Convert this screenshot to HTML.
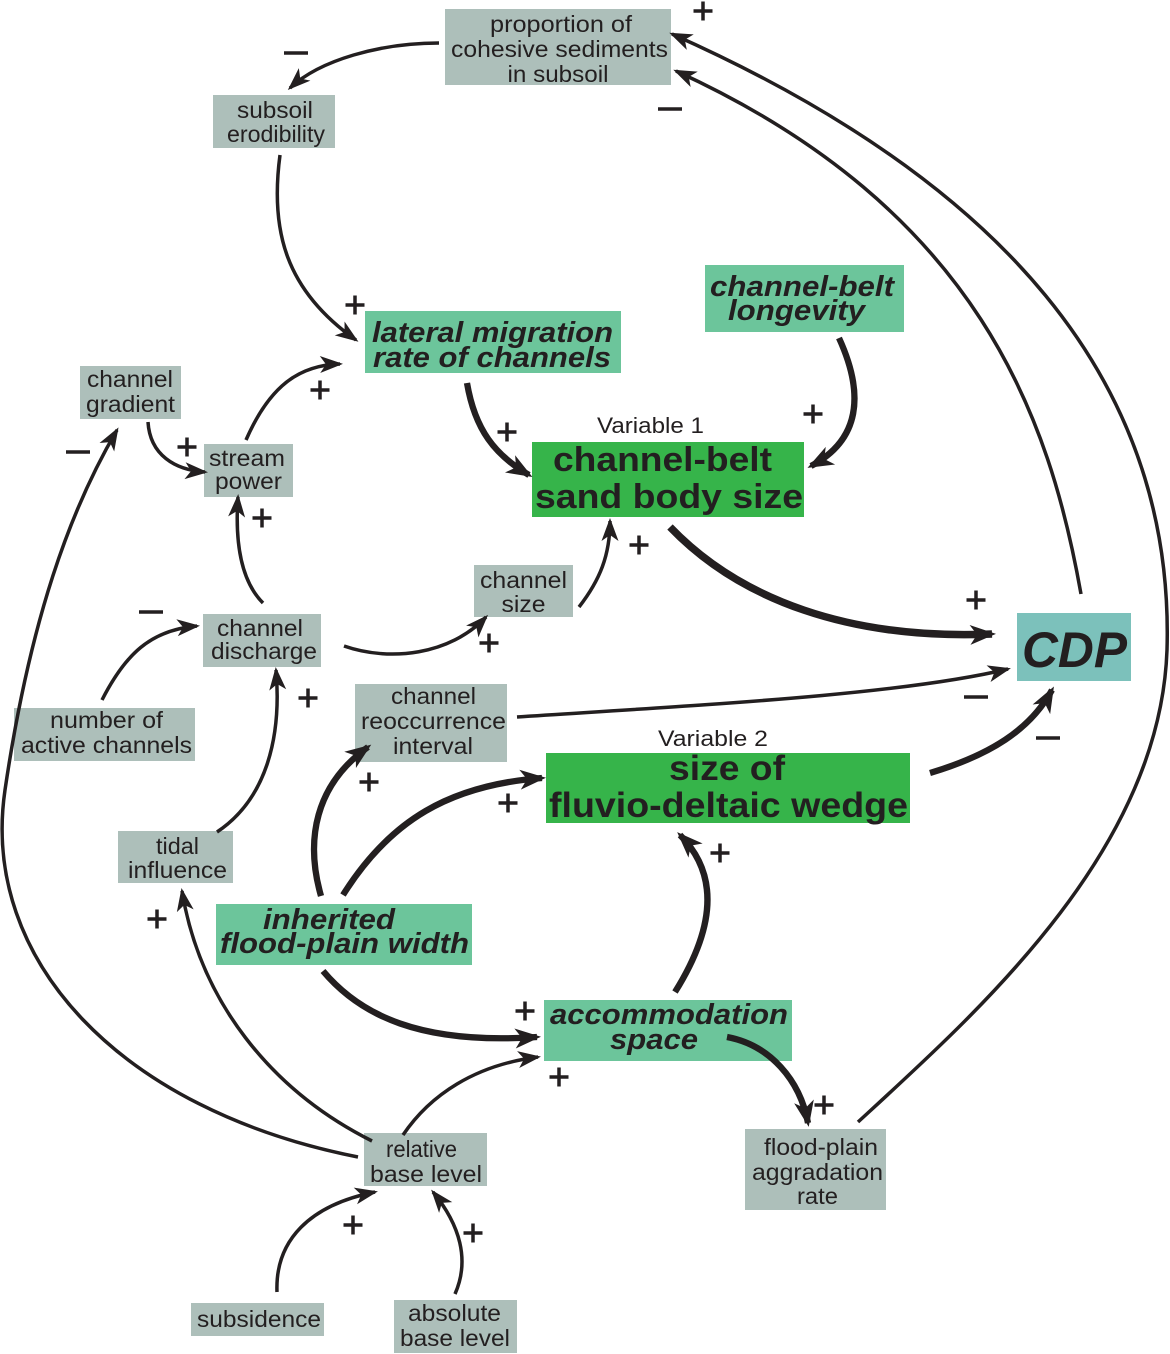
<!DOCTYPE html>
<html><head><meta charset="utf-8"><style>
html,body{margin:0;padding:0;background:#fff;}
svg{display:block;}
.g{font-family:"Liberation Sans",Arial,sans-serif;font-size:23px;fill:#231f20;}
.bi{font-family:"Liberation Sans",Arial,sans-serif;font-size:29px;font-weight:bold;font-style:italic;fill:#231f20;}
.b{font-family:"Liberation Sans",Arial,sans-serif;font-weight:bold;fill:#231f20;}
.v{font-family:"Liberation Sans",Arial,sans-serif;font-size:22px;fill:#231f20;}
.ln{fill:none;stroke:#231f20;stroke-width:3.5;}
.tk{fill:none;stroke:#231f20;stroke-width:6.3;}
.sg{stroke:#231f20;stroke-width:3.5;fill:none;}
</style></head><body>
<svg width="1170" height="1354" viewBox="0 0 1170 1354" xmlns="http://www.w3.org/2000/svg">
<defs>
<marker id="a" viewBox="-26 -12 30 24" markerWidth="30" markerHeight="24" refX="0" refY="0" orient="auto" markerUnits="userSpaceOnUse" overflow="visible">
<path d="M3,0 L-20,-8.5 L-14,0 L-20,8.5 Z" fill="#231f20"/></marker>
<marker id="b" viewBox="-30 -14 34 28" markerWidth="34" markerHeight="28" refX="0" refY="0" orient="auto" markerUnits="userSpaceOnUse" overflow="visible">
<path d="M4,0 L-22,-10 L-15,0 L-22,10 Z" fill="#231f20"/></marker>
</defs>
<rect width="1170" height="1354" fill="#fff"/>

<!-- boxes -->
<g fill="#adbfba">
<rect x="445" y="9" width="226" height="76"/>
<rect x="213" y="95" width="122" height="53"/>
<rect x="80" y="366" width="101" height="53"/>
<rect x="204" y="444" width="89" height="53"/>
<rect x="474" y="565" width="99" height="52"/>
<rect x="203" y="614" width="118" height="53"/>
<rect x="14" y="708" width="181" height="53"/>
<rect x="355" y="684" width="152" height="78"/>
<rect x="118" y="831" width="115" height="52"/>
<rect x="364" y="1133" width="123" height="53"/>
<rect x="745" y="1129" width="141" height="81"/>
<rect x="191" y="1303" width="133" height="33"/>
<rect x="394" y="1300" width="123" height="53"/>
</g>
<g fill="#6cc59b">
<rect x="365" y="311" width="256" height="62"/>
<rect x="705" y="265" width="199" height="67"/>
<rect x="216" y="904" width="256" height="61"/>
<rect x="544" y="1000" width="248" height="61"/>
</g>
<g fill="#36b44a">
<rect x="532" y="442" width="272" height="75"/>
<rect x="546" y="753" width="364" height="70"/>
</g>
<rect x="1017" y="613" width="114" height="68" fill="#7cc1bb"/>

<!-- gray text -->
<g class="g" text-anchor="middle">
<text x="561" y="32" textLength="142" lengthAdjust="spacingAndGlyphs">proportion of</text>
<text x="559.5" y="57" textLength="217" lengthAdjust="spacingAndGlyphs">cohesive sediments</text>
<text x="558" y="82" textLength="101" lengthAdjust="spacingAndGlyphs">in subsoil</text>
<text x="275" y="118" textLength="76" lengthAdjust="spacingAndGlyphs">subsoil</text>
<text x="276" y="142" textLength="98" lengthAdjust="spacingAndGlyphs">erodibility</text>
<text x="130" y="387" textLength="86" lengthAdjust="spacingAndGlyphs">channel</text>
<text x="130.5" y="412" textLength="89" lengthAdjust="spacingAndGlyphs">gradient</text>
<text x="247" y="466" textLength="76" lengthAdjust="spacingAndGlyphs">stream</text>
<text x="248.5" y="489" textLength="67" lengthAdjust="spacingAndGlyphs">power</text>
<text x="523.5" y="588" textLength="87" lengthAdjust="spacingAndGlyphs">channel</text>
<text x="523.5" y="612" textLength="44" lengthAdjust="spacingAndGlyphs">size</text>
<text x="260" y="636" textLength="86" lengthAdjust="spacingAndGlyphs">channel</text>
<text x="264" y="659" textLength="106" lengthAdjust="spacingAndGlyphs">discharge</text>
<text x="106.5" y="728" textLength="113" lengthAdjust="spacingAndGlyphs">number of</text>
<text x="106.5" y="753" textLength="171" lengthAdjust="spacingAndGlyphs">active channels</text>
<text x="433.5" y="704" textLength="85" lengthAdjust="spacingAndGlyphs">channel</text>
<text x="433.5" y="729" textLength="145" lengthAdjust="spacingAndGlyphs">reoccurrence</text>
<text x="433" y="754" textLength="80" lengthAdjust="spacingAndGlyphs">interval</text>
<text x="177.5" y="854" textLength="43" lengthAdjust="spacingAndGlyphs">tidal</text>
<text x="177.5" y="878" textLength="99" lengthAdjust="spacingAndGlyphs">influence</text>
<text x="421.5" y="1157" textLength="71" lengthAdjust="spacingAndGlyphs">relative</text>
<text x="426" y="1182" textLength="112" lengthAdjust="spacingAndGlyphs">base level</text>
<text x="259" y="1327" textLength="124" lengthAdjust="spacingAndGlyphs">subsidence</text>
<text x="454.5" y="1321" textLength="93" lengthAdjust="spacingAndGlyphs">absolute</text>
<text x="455" y="1346" textLength="110" lengthAdjust="spacingAndGlyphs">base level</text>
<text x="821" y="1155" textLength="114" lengthAdjust="spacingAndGlyphs">flood-plain</text>
<text x="817.5" y="1180" textLength="131" lengthAdjust="spacingAndGlyphs">aggradation</text>
<text x="817.5" y="1204" textLength="41" lengthAdjust="spacingAndGlyphs">rate</text>
</g>

<!-- bold italic -->
<g class="bi" text-anchor="middle">
<text x="492.5" y="342" textLength="241" lengthAdjust="spacingAndGlyphs">lateral migration</text>
<text x="492" y="367" textLength="238" lengthAdjust="spacingAndGlyphs">rate of channels</text>
<text x="802" y="296" textLength="184" lengthAdjust="spacingAndGlyphs">channel-belt</text>
<text x="796.5" y="320" textLength="137" lengthAdjust="spacingAndGlyphs">longevity</text>
<text x="329" y="929" textLength="132" lengthAdjust="spacingAndGlyphs">inherited</text>
<text x="344.5" y="953" textLength="249" lengthAdjust="spacingAndGlyphs">flood-plain width</text>
<text x="669" y="1024" textLength="238" lengthAdjust="spacingAndGlyphs">accommodation</text>
<text x="654" y="1049" textLength="88" lengthAdjust="spacingAndGlyphs">space</text>
</g>
<g class="b" text-anchor="middle">
<text x="662.5" y="471" font-size="34" textLength="219" lengthAdjust="spacingAndGlyphs">channel-belt</text>
<text x="669" y="508" font-size="34" textLength="268" lengthAdjust="spacingAndGlyphs">sand body size</text>
<text x="727" y="780" font-size="35" textLength="116" lengthAdjust="spacingAndGlyphs">size of</text>
<text x="728.5" y="817" font-size="35" textLength="359" lengthAdjust="spacingAndGlyphs">fluvio-deltaic wedge</text>
<text x="1074.5" y="667" font-size="50" font-style="italic" textLength="105" lengthAdjust="spacingAndGlyphs">CDP</text>
</g>
<g class="v" text-anchor="middle">
<text x="650.5" y="433" textLength="107" lengthAdjust="spacingAndGlyphs">Variable 1</text>
<text x="713" y="746" textLength="110" lengthAdjust="spacingAndGlyphs">Variable 2</text>
</g>

<!-- thin connectors -->
<g class="ln" marker-end="url(#a)">
<path d="M439,43 C380,43 320,60 290,88"/>
<path d="M280,155 C270,230 285,290 356,340"/>
<path d="M148,422 C150,455 175,470 205,472"/>
<path d="M246,440 C270,385 300,365 340,364"/>
<path d="M263,603 C240,580 235,540 238,497"/>
<path d="M102,700 C125,655 150,630 197,626"/>
<path d="M344,646 C390,662 450,655 486,617"/>
<path d="M217,832 C265,800 282,740 276,670"/>
<path d="M579,607 C600,580 610,555 610,521"/>
<path d="M517,717 C700,705 900,695 1008,669"/>
<path d="M403,1135 C430,1095 475,1065 538,1057"/>
<path d="M372,1141 C270,1090 200,1000 182,891"/>
<path d="M277,1292 C275,1240 310,1205 375,1192"/>
<path d="M455,1294 C470,1260 460,1225 433,1192"/>
<path d="M858,1122 C980,1010 1160,850 1167,650 C1175,380 1000,180 672,34"/>
<path d="M1081,594 C1050,420 980,210 676,71"/>
<path d="M358,1157 C120,1110 -20,960 5,790 C30,620 70,510 117,430"/>
</g>

<!-- thick connectors -->
<g class="tk" marker-end="url(#b)">
<path d="M467,383 C475,430 495,455 529,475"/>
<path d="M839,338 C865,395 860,440 811,466"/>
<path d="M670,527 C740,600 850,640 992,634" stroke-width="7.5"/>
<path d="M930,773 C990,755 1030,730 1052,690"/>
<path d="M321,896 C305,840 315,785 368,747"/>
<path d="M343,895 C390,820 450,785 542,778"/>
<path d="M323,971 C360,1015 420,1045 537,1037"/>
<path d="M675,992 C720,920 715,870 680,835"/>
<path d="M727,1037 C770,1045 800,1080 808,1123"/>
</g>

<!-- plus signs -->
<g class="sg">
<path d="M693.5,11h19M703,1.5v19"/>
<path d="M345.5,305h19M355,295.5v19"/>
<path d="M310.5,390h19M320,380.5v19"/>
<path d="M497.5,432h19M507,422.5v19"/>
<path d="M803.5,414h19M813,404.5v19"/>
<path d="M177.5,447h19M187,437.5v19"/>
<path d="M252.5,518h19M262,508.5v19"/>
<path d="M629.5,545h19M639,535.5v19"/>
<path d="M966.5,600h19M976,590.5v19"/>
<path d="M479.5,643h19M489,633.5v19"/>
<path d="M298.5,698h19M308,688.5v19"/>
<path d="M359.5,782h19M369,772.5v19"/>
<path d="M498.5,803h19M508,793.5v19"/>
<path d="M710.5,853h19M720,843.5v19"/>
<path d="M147.5,919h19M157,909.5v19"/>
<path d="M515.5,1011h19M525,1001.5v19"/>
<path d="M549.5,1077h19M559,1067.5v19"/>
<path d="M814.5,1105h19M824,1095.5v19"/>
<path d="M343.5,1225h19M353,1215.5v19"/>
<path d="M463.5,1233h19M473,1223.5v19"/>
</g>
<!-- minus signs -->
<g fill="#231f20">
<rect x="284" y="51.25" width="24" height="3.5"/>
<rect x="658" y="107.25" width="24" height="3.5"/>
<rect x="66" y="450.25" width="24" height="3.5"/>
<rect x="139" y="610.25" width="24" height="3.5"/>
<rect x="964" y="695.25" width="24" height="3.5"/>
<rect x="1036" y="736.25" width="24" height="3.5"/>
</g>
</svg>
</body></html>
